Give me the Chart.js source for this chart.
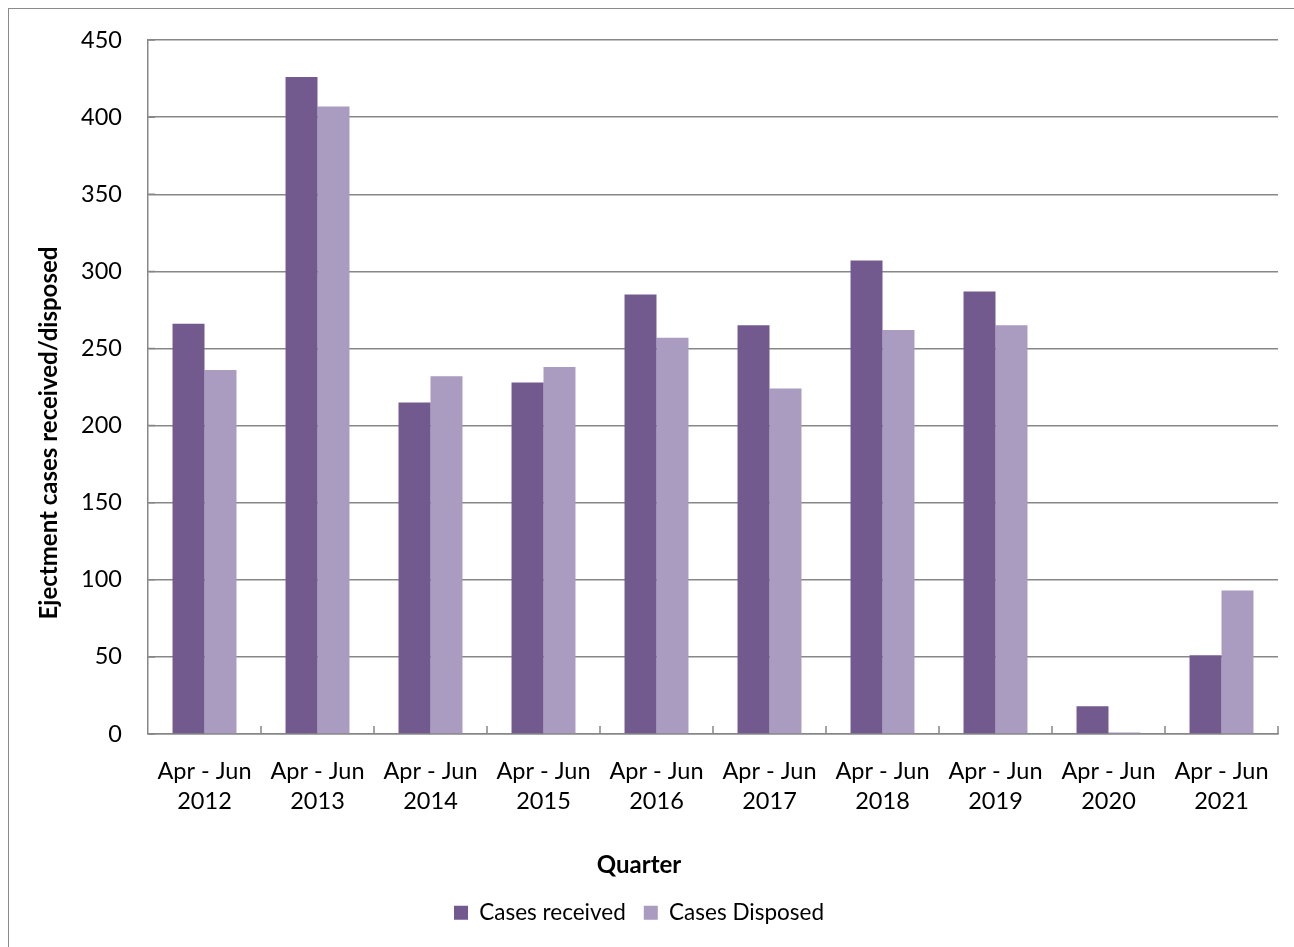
<!DOCTYPE html>
<html>
<head>
<meta charset="utf-8">
<title>Ejectment cases received and disposed</title>
<script src="https://cdn.jsdelivr.net/npm/chart.js@4.4.1/dist/chart.umd.min.js"></script>
<style>
    html, body { margin: 0; padding: 0; background: #fff; overflow: hidden; }
    #wrap { position: relative; width: 1294px; height: 947px; }
    /* outer chart frame, runs off the right and bottom edges */
    #frame { position: absolute; left: 8px; top: 8px; width: 1400px; height: 1000px;
             border-left: 1px solid #8a8a8a; border-top: 1px solid #8a8a8a; }
    #ejectChart { position: absolute; left: 0; top: 0; }
</style>
</head>
<body>
<div id="wrap">
    <div id="frame"></div>
    <canvas id="ejectChart" width="1294" height="947"></canvas>
</div>
<script>
// Apr - Jun quarter of each year
const years = ['2012', '2013', '2014', '2015', '2016', '2017', '2018', '2019', '2020', '2021'];
const quarterLabels = years.map(y => ['Apr - Jun', y]);

const casesReceived = [266, 426, 215, 228, 285, 265, 307, 287, 18, 51];
const casesDisposed = [236, 407, 232, 238, 257, 224, 262, 265, 1, 93];

const yMin = 0;
const yMax = 450;
const yStep = 50;

const gridGrey = '#878787';
const fontFamily = 'Lato, "Open Sans", sans-serif';

// small inward tick marks on both axes, placed from the scales
const axisTicks = {
    id: 'axisTicks',
    afterDatasetsDraw(chart) {
        const { ctx } = chart;
        const x = chart.scales.x;
        const y = chart.scales.y;
        const n = x.ticks.length;
        const step = (x.right - x.left) / n;
        ctx.save();
        ctx.strokeStyle = gridGrey;
        ctx.lineWidth = 1.5;
        ctx.beginPath();
        for (let i = 1; i <= n; i++) {
            const px = x.left + i * step;
            ctx.moveTo(px, y.bottom);
            ctx.lineTo(px, y.bottom - 8);
        }
        y.ticks.forEach(t => {
            const py = y.getPixelForValue(t.value);
            ctx.moveTo(y.right, py);
            ctx.lineTo(y.right + 7, py);
        });
        ctx.stroke();
        ctx.restore();
    }
};

// rotated value-axis title, sitting a little below the middle of the plot
const sideTitle = {
    id: 'sideTitle',
    afterDraw(chart, args, opts) {
        const { ctx, chartArea } = chart;
        ctx.save();
        ctx.translate(opts.x, (chartArea.top + chartArea.bottom) / 2 + opts.shift);
        ctx.rotate(-Math.PI / 2);
        ctx.font = 'bold 24px ' + fontFamily;
        ctx.fillStyle = '#000';
        ctx.textAlign = 'center';
        ctx.textBaseline = 'middle';
        ctx.fillText(opts.text, 0, 0);
        ctx.restore();
    }
};

new Chart(document.getElementById('ejectChart'), {
    type: 'bar',
    data: {
        labels: quarterLabels,
        datasets: [{
            label: 'Cases received',
            data: casesReceived,
            backgroundColor: '#725a8f',
            categoryPercentage: 0.566,
            barPercentage: 1.0
        }, {
            label: 'Cases Disposed',
            data: casesDisposed,
            backgroundColor: '#aa9bc0',
            categoryPercentage: 0.566,
            barPercentage: 1.0
        }]
    },
    options: {
        responsive: false,
        animation: false,
        layout: {
            padding: { top: 37.5, right: 16, bottom: 13, left: 0 }
        },
        scales: {
            x: {
                grid: { display: false, drawTicks: false },
                border: { display: true, color: gridGrey, width: 1.5 },
                ticks: {
                    color: '#000',
                    padding: 22,
                    maxRotation: 0,
                    autoSkip: false,
                    font: { family: fontFamily, size: 23.5, lineHeight: 1.28 }
                },
                afterFit(scale) { scale.height = 117.2; }
            },
            y: {
                min: yMin,
                max: yMax,
                grid: { color: gridGrey, lineWidth: 1.5, drawTicks: false },
                border: { display: true, color: gridGrey, width: 1.5 },
                ticks: {
                    stepSize: yStep,
                    color: '#000',
                    padding: 26,
                    font: { family: fontFamily, size: 23.5 }
                },
                afterFit(scale) { scale.width = 148; }
            }
        },
        plugins: {
            title: {
                display: true,
                text: 'Quarter',
                position: 'bottom',
                weight: 500,
                color: '#000',
                padding: { top: 0, bottom: 4.7 },
                font: { family: fontFamily, size: 24, weight: 'bold', lineHeight: 1.15 }
            },
            legend: {
                position: 'bottom',
                labels: {
                    color: '#000',
                    boxWidth: 14,
                    boxHeight: 14,
                    padding: 18,
                    font: { family: fontFamily, size: 22.5 }
                }
            },
            tooltip: { enabled: false },
            sideTitle: {
                text: 'Ejectment cases received/disposed',
                x: 49,
                shift: 46
            }
        }
    },
    plugins: [axisTicks, sideTitle]
});
</script>
</body>
</html>
